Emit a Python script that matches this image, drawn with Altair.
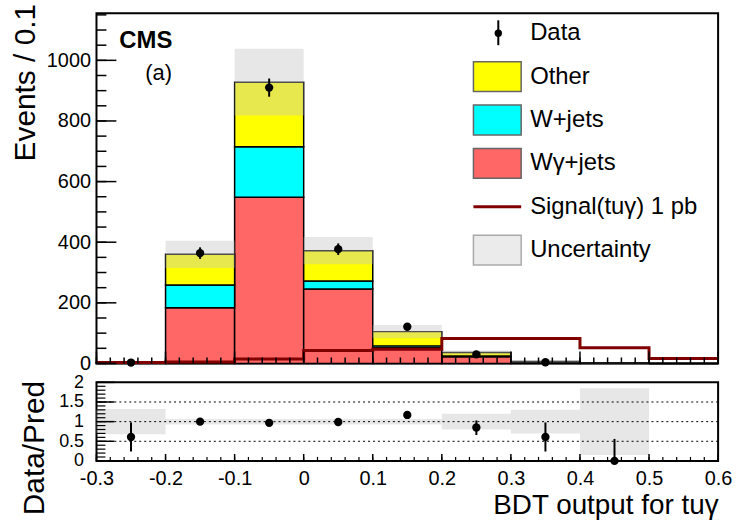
import altair as alt
import pandas as pd

FONT = "Liberation Sans"

# Binning of the BDT output
bin_lo = [-0.3, -0.2, -0.1, 0.0, 0.1, 0.2, 0.3, 0.4, 0.5]
bin_hi = [-0.2, -0.1, 0.0, 0.1, 0.2, 0.3, 0.4, 0.5, 0.6]

# Stacked backgrounds (events / 0.1)
wgamma = [2, 184, 548, 246, 52, 22, 2, 0.5, 0]
wjets = [0.5, 75, 167, 26, 6, 3, 1, 0.3, 0]
other = [1, 101, 213, 100, 47, 11, 3.5, 0.7, 0]
bkg_unc = [2, 45, 110, 45, 22, 7, 3, 1, 0]
signal = [3, 5, 15, 43, 47, 82, 82, 52, 16]

# Observed data
data_x = [-0.25, -0.15, -0.05, 0.05, 0.15, 0.25, 0.35]
data_y = [3, 364, 910, 377, 121, 30, 4]
data_err = [2, 19, 30, 19, 11, 5.5, 2]

# Data / prediction
ratio_x = [-0.25, -0.15, -0.05, 0.05, 0.15, 0.25, 0.35, 0.45]
ratio_y = [0.61, 1.0, 0.97, 0.99, 1.17, 0.85, 0.61, 0.0]
ratio_lo = [0.24, 0.95, 0.94, 0.94, 1.09, 0.66, 0.24, 0.0]
ratio_hi = [0.98, 1.05, 1.00, 1.04, 1.25, 1.03, 0.98, 0.56]
ratio_unc = [0.32, 0.07, 0.07, 0.07, 0.07, 0.2, 0.3, 0.85, 0]

# Axis ticks and labels
x_labels = [-0.3, -0.2, -0.1, 0.0, 0.1, 0.2, 0.3, 0.4, 0.5, 0.6]
top_y_labels = [0, 200, 400, 600, 800, 1000]
ratio_y_labels = [0, 0.5, 1, 1.5, 2]
x_minor = [round(-0.3 + 0.02 * i, 2) for i in range(46)]
top_y_minor = [50 * i for i in range(24)]
ratio_y_minor = [round(0.1 * i, 1) for i in range(21)]

legend_labels = ["Data", "Other", "W+jets", "W\u03b3+jets", "Signal(tu\u03b3) 1 pb", "Uncertainty"]
legend_kind = ["marker", "box", "box", "box", "line", "box"]
legend_fill = ["black", "#ffff00", "#00ffff", "#ff6666", "#800000", "#ebebeb"]
legend_edge = ["black", "#666666", "#666666", "#666666", "#800000", "#aaaaaa"]

W, H_TOP, H_RAT = 625, 352, 79
XDOM = [-0.3, 0.6]
YTOP = [0, 1155]
YRAT = [0, 2]

hist = pd.DataFrame({"lo": bin_lo, "hi": bin_hi, "wg": wgamma, "wj": wjets,
                     "ot": other, "unc": bkg_unc})
hist["zero"] = 0.0
hist["c1"] = hist["wg"]
hist["c2"] = hist["wg"] + hist["wj"]
hist["c3"] = hist["c2"] + hist["ot"]
hist["u_lo"] = (hist["c3"] - hist["unc"]).clip(lower=0)
hist["u_hi"] = hist["c3"] + hist["unc"]

sig = pd.DataFrame({"x": bin_lo + [bin_hi[-1]], "y": signal + [signal[-1]]})
dat = pd.DataFrame({"x": data_x, "y": data_y, "err": data_err})
dat["lo"] = dat["y"] - dat["err"]
dat["hi"] = dat["y"] + dat["err"]

rat = pd.DataFrame({"x": ratio_x, "y": ratio_y, "lo": ratio_lo, "hi": ratio_hi})
rat_band = pd.DataFrame({"lo": bin_lo, "hi": bin_hi, "u": ratio_unc})
rat_band["b_lo"] = 1 - rat_band["u"]
rat_band["b_hi"] = 1 + rat_band["u"]
rat_band = rat_band[rat_band["u"] > 0]

xs = alt.Scale(domain=XDOM, nice=False, zero=False)
ys_top = alt.Scale(domain=YTOP, nice=False)
ys_rat = alt.Scale(domain=YRAT, nice=False)

x_hidden = alt.Axis(labels=False, ticks=False, domain=False, grid=False, title=None)

top_y_axis = alt.Axis(values=top_y_labels, labelExpr="datum.value", ticks=False, tickSize=0,
                      domain=False, grid=False, labelFontSize=20, labelPadding=6,
                      title="Events / 0.1", titleFontSize=30, titleFontWeight="normal",
                      titleAnchor="end", titlePadding=6, titleY=-10)

base_top = alt.Chart(hist)


def band(y0, y1, color):
    return base_top.mark_rect(fill=color, stroke="black", strokeWidth=1.5).encode(
        x=alt.X("lo:Q", scale=xs, axis=x_hidden), x2="hi:Q",
        y=alt.Y(f"{y0}:Q", scale=ys_top, axis=top_y_axis), y2=f"{y1}:Q")


red = band("zero", "c1", "#ff6666")
cyan = band("c1", "c2", "#00ffff")
yellow = band("c2", "c3", "#ffff00")
unc_top = base_top.mark_rect(fill="#c4c4c4", opacity=0.4).encode(
    x=alt.X("lo:Q", scale=xs, axis=x_hidden), x2="hi:Q",
    y=alt.Y("u_lo:Q", scale=ys_top, axis=top_y_axis), y2="u_hi:Q")

sig_line = alt.Chart(sig).mark_line(interpolate="step-after", color="#800000", strokeWidth=3).encode(
    x=alt.X("x:Q", scale=xs, axis=x_hidden),
    y=alt.Y("y:Q", scale=ys_top, axis=top_y_axis))

dat_err = alt.Chart(dat).mark_rule(color="black", strokeWidth=2).encode(
    x=alt.X("x:Q", scale=xs, axis=x_hidden),
    y=alt.Y("lo:Q", scale=ys_top, axis=top_y_axis), y2="hi:Q")
dat_pts = alt.Chart(dat).mark_circle(color="black", opacity=1, size=70).encode(
    x=alt.X("x:Q", scale=xs, axis=x_hidden),
    y=alt.Y("y:Q", scale=ys_top, axis=top_y_axis))

# inward ticks of the upper frame
top_ytick_major = alt.Chart(pd.DataFrame({"v": top_y_labels})).mark_rule(color="black", strokeWidth=1.5).encode(
    y=alt.Y("v:Q", scale=ys_top, axis=top_y_axis), x=alt.value(0), x2=alt.value(20))
top_ytick_minor = alt.Chart(pd.DataFrame({"v": top_y_minor})).mark_rule(color="black", strokeWidth=1.5).encode(
    y=alt.Y("v:Q", scale=ys_top, axis=top_y_axis), x=alt.value(0), x2=alt.value(10))
top_xtick_major = alt.Chart(pd.DataFrame({"v": x_labels})).mark_rule(color="black", strokeWidth=1.5).encode(
    x=alt.X("v:Q", scale=xs, axis=x_hidden), y=alt.value(H_TOP), y2=alt.value(H_TOP - 12))
top_xtick_minor = alt.Chart(pd.DataFrame({"v": x_minor})).mark_rule(color="black", strokeWidth=1.5).encode(
    x=alt.X("v:Q", scale=xs, axis=x_hidden), y=alt.value(H_TOP), y2=alt.value(H_TOP - 6))

# legend block
leg = pd.DataFrame({"label": legend_labels, "kind": legend_kind,
                    "fill": legend_fill, "edge": legend_edge,
                    "row": list(range(len(legend_labels)))})
leg_base = alt.Chart(leg).transform_calculate(
    py="20 + datum.row * 43.6", y0="datum.py - 15", y1="datum.py + 15",
    e0="datum.py - 13", e1="datum.py + 12")
leg_text = leg_base.mark_text(align="left", baseline="middle", fontSize=24, font=FONT, color="black").encode(
    x=alt.value(436), y=alt.Y("py:Q", scale=None), text="label:N")
leg_box = leg_base.transform_filter("datum.kind == 'box'").mark_rect(strokeWidth=1.5).encode(
    x=alt.value(379), x2=alt.value(427),
    y=alt.Y("y0:Q", scale=None), y2="y1:Q",
    fill=alt.Fill("fill:N", scale=None), stroke=alt.Stroke("edge:N", scale=None))
leg_line = leg_base.transform_filter("datum.kind == 'line'").mark_rule(strokeWidth=3, color="#800000").encode(
    x=alt.value(379), x2=alt.value(427), y=alt.Y("py:Q", scale=None))
leg_bar = leg_base.transform_filter("datum.kind == 'marker'").mark_rule(strokeWidth=2, color="black").encode(
    x=alt.value(404), y=alt.Y("e0:Q", scale=None), y2="e1:Q")
leg_pt = leg_base.transform_filter("datum.kind == 'marker'").mark_circle(size=55, color="black", opacity=1).encode(
    x=alt.value(404), y=alt.Y("py:Q", scale=None))

cms = alt.Chart(pd.DataFrame({"t": ["CMS"]})).mark_text(
    align="left", baseline="middle", fontSize=24, fontWeight="bold", font=FONT, color="black").encode(
    x=alt.value(23), y=alt.value(28), text="t:N")
tag = alt.Chart(pd.DataFrame({"t": ["(a)"]})).mark_text(
    align="left", baseline="middle", fontSize=22, font=FONT, color="black").encode(
    x=alt.value(49), y=alt.value(60), text="t:N")

top = alt.layer(
    red, cyan, yellow, unc_top, sig_line,
    top_ytick_minor, top_ytick_major, top_xtick_minor, top_xtick_major,
    dat_err, dat_pts,
    leg_box, leg_line, leg_bar, leg_pt, leg_text, cms, tag,
).properties(width=W, height=H_TOP)

# ratio panel
rat_x_axis = alt.Axis(values=x_labels, labelExpr="datum.value", ticks=False, tickSize=0, domain=False,
                      grid=False, labelFontSize=20, labelPadding=8, labelFlush=False,
                      title="BDT output for tu\u03b3", titleFontSize=28, titleFontWeight="normal",
                      titleAnchor="end", titlePadding=3)
rat_y_axis = alt.Axis(values=ratio_y_labels, labelExpr="datum.value", ticks=False, tickSize=0,
                      domain=False, grid=False, labelFontSize=18, labelPadding=13,
                      title="Data/Pred", titleFontSize=30, titleFontWeight="normal",
                      titleAnchor="end", titlePadding=9, titleY=-2)

rat_unc = alt.Chart(rat_band).mark_rect(fill="#c4c4c4", opacity=0.4).encode(
    x=alt.X("lo:Q", scale=xs, axis=rat_x_axis), x2="hi:Q",
    y=alt.Y("b_lo:Q", scale=ys_rat, axis=rat_y_axis), y2="b_hi:Q")
rat_lines = alt.Chart(pd.DataFrame({"v": [0.5, 1.0, 1.5]})).mark_rule(
    color="black", strokeWidth=1, strokeDash=[2, 3]).encode(
    y=alt.Y("v:Q", scale=ys_rat, axis=rat_y_axis))
rat_err = alt.Chart(rat).mark_rule(color="black", strokeWidth=2).encode(
    x=alt.X("x:Q", scale=xs, axis=rat_x_axis),
    y=alt.Y("lo:Q", scale=ys_rat, axis=rat_y_axis), y2="hi:Q")
rat_pts = alt.Chart(rat).mark_circle(color="black", opacity=1, size=70, clip=False).encode(
    x=alt.X("x:Q", scale=xs, axis=rat_x_axis),
    y=alt.Y("y:Q", scale=ys_rat, axis=rat_y_axis))

rat_ytick_major = alt.Chart(pd.DataFrame({"v": ratio_y_labels})).mark_rule(color="black", strokeWidth=1.5).encode(
    y=alt.Y("v:Q", scale=ys_rat, axis=rat_y_axis), x=alt.value(0), x2=alt.value(18))
rat_ytick_minor = alt.Chart(pd.DataFrame({"v": ratio_y_minor})).mark_rule(color="black", strokeWidth=1.2).encode(
    y=alt.Y("v:Q", scale=ys_rat, axis=rat_y_axis), x=alt.value(0), x2=alt.value(9))
rat_xtick_major = alt.Chart(pd.DataFrame({"v": x_labels})).mark_rule(color="black", strokeWidth=1.5).encode(
    x=alt.X("v:Q", scale=xs, axis=rat_x_axis), y=alt.value(H_RAT), y2=alt.value(H_RAT - 7))
rat_xtick_minor = alt.Chart(pd.DataFrame({"v": x_minor})).mark_rule(color="black", strokeWidth=1.2).encode(
    x=alt.X("v:Q", scale=xs, axis=rat_x_axis), y=alt.value(H_RAT), y2=alt.value(H_RAT - 4))

bottom = alt.layer(
    rat_unc, rat_lines, rat_ytick_minor, rat_ytick_major, rat_xtick_minor, rat_xtick_major,
    rat_err, rat_pts,
).properties(width=W, height=H_RAT)

chart = alt.vconcat(top, bottom, spacing=19, bounds="flush").properties(
    padding={"left": 9, "top": 0, "right": 5, "bottom": 4},
    background="white",
).configure_view(
    stroke="black", strokeWidth=2
).configure_axis(
    labelFont=FONT, titleFont=FONT, labelColor="black", titleColor="black"
)

chart.save("out.html", embed_options={"renderer": "svg", "actions": False})
